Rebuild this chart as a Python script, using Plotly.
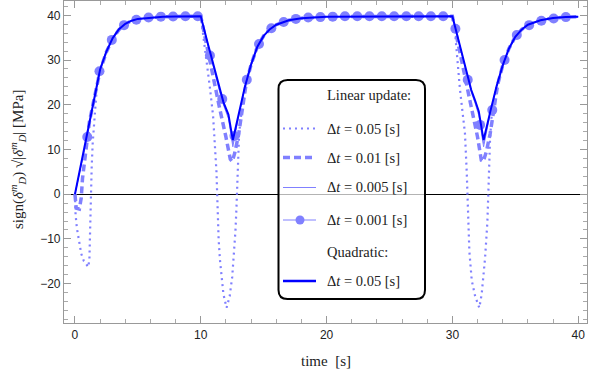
import plotly.graph_objects as go

# ── data ────────────────────────────────────────────────────
# quadratic update, dt = 0.05 s (also time grid for the two fine linear runs)
t_quad = [0, 0.5, 1, 1.5, 2, 2.5, 3, 3.5, 4, 4.5, 5, 6, 7, 8, 10,
          10.5, 11, 11.5, 11.8, 12.2, 12.55, 12.8, 13, 13.5, 14, 14.5, 15, 15.5, 16, 17, 18, 19, 20, 30,
          30.5, 31, 31.5, 31.8, 32.1, 32.48, 32.75, 33, 33.5, 34, 34.5, 35, 35.5, 36, 37, 38, 39, 40]
y_quad = [0, 6.7, 13.4, 20.9, 27.9, 31.9, 34.9, 36.9, 38.1, 38.8, 39.2, 39.5, 39.7, 39.75, 39.8,
          34.3, 28.9, 23.4, 20.6, 17.8, 12.1, 15.2, 17.7, 23.9, 29.0, 33.0, 35.4, 36.9, 37.9, 38.9, 39.35, 39.6, 39.7, 39.8,
          34.3, 28.6, 23.3, 21.0, 18.5, 12.1, 15.5, 18.3, 24.0, 28.8, 32.6, 35.2, 36.8, 37.9, 38.9, 39.4, 39.6, 39.7]

# linear update, dt = 0.005 s
y_005 = [0, 6.5, 13.2, 20.7, 27.8, 31.8, 34.8, 36.9, 38.1, 38.8, 39.2, 39.5, 39.7, 39.75, 39.8,
         34.0, 28.4, 22.9, 20.0, 16.9, 10.6, 14.3, 17.3, 23.8, 29.0, 33.0, 35.4, 36.9, 37.9, 38.9, 39.35, 39.6, 39.7, 39.8,
         34.0, 28.2, 22.8, 20.4, 17.6, 10.6, 14.6, 17.9, 23.9, 28.8, 32.6, 35.2, 36.8, 37.9, 38.9, 39.4, 39.6, 39.7]

# linear update, dt = 0.001 s (line) + its plot markers
y_001 = [0, 6.6, 13.3, 20.8, 27.8, 31.9, 34.8, 36.9, 38.1, 38.8, 39.2, 39.5, 39.7, 39.75, 39.8,
         34.2, 28.7, 23.2, 20.4, 17.4, 11.3, 14.7, 17.5, 23.9, 29.0, 33.0, 35.4, 36.9, 37.9, 38.9, 39.35, 39.6, 39.7, 39.8,
         34.2, 28.4, 23.1, 20.8, 18.1, 11.3, 15.0, 18.1, 24.0, 28.8, 32.6, 35.2, 36.8, 37.9, 38.9, 39.4, 39.6, 39.7]
t_mark = [0.98, 1.95, 2.93, 3.90, 4.88, 5.85, 6.83, 7.80, 8.78, 9.76,
          10.73, 11.71, 12.68, 13.66, 14.63, 15.61, 16.59, 17.56, 18.54, 19.51,
          20.49, 21.46, 22.44, 23.41, 24.39, 25.37, 26.34, 27.32, 28.29, 29.27,
          30.24, 31.22, 32.20, 33.17, 34.15, 35.12, 36.10, 37.07, 38.05, 39.02]
y_mark = [12.8, 27.5, 34.5, 37.8, 39.0, 39.5, 39.7, 39.75, 39.8, 39.8,
          31.0, 21.3, 13.0, 25.6, 33.6, 37.1, 38.5, 39.2, 39.5, 39.6,
          39.7, 39.8, 39.8, 39.8, 39.8, 39.8, 39.8, 39.8, 39.8, 39.8,
          37.0, 25.6, 15.5, 18.8, 30.0, 35.6, 37.8, 38.8, 39.3, 39.6]

# linear update, dt = 0.01 s
t_dash = [0, 0.1, 0.35, 0.5, 0.6, 0.75, 0.9, 1.0, 1.15, 1.5, 2, 2.5, 3, 3.5, 4, 4.5, 5, 6, 7, 8, 10,
          10.5, 11, 11.5, 12, 12.35, 12.5, 12.7, 13, 13.3, 13.6, 14, 14.5, 15, 15.5, 16, 17, 18, 19, 20, 30,
          30.5, 31, 31.5, 32, 32.3, 32.45, 32.7, 33, 33.3, 33.6, 34, 34.5, 35, 35.5, 36, 37, 38, 39, 40]
y_dash = [0, -3.1, -3.3, -0.8, 3.5, 7.0, 10.0, 12.1, 16.2, 21.0, 27.6, 31.8, 34.8, 36.8, 38.0, 38.8, 39.2, 39.5, 39.7, 39.75, 39.8,
          32.6, 25.4, 19.2, 12.8, 7.8, 7.3, 9.2, 13.2, 19.0, 24.6, 29.0, 33.0, 35.4, 36.9, 37.9, 38.9, 39.35, 39.6, 39.7, 39.8,
          32.8, 25.8, 19.5, 12.8, 7.6, 7.3, 9.5, 13.5, 19.3, 24.5, 28.8, 32.6, 35.2, 36.8, 37.9, 38.9, 39.4, 39.6, 39.7]

# linear update, dt = 0.05 s
t_dot = [0, 0.05, 0.15, 0.3, 0.5, 0.7, 0.9, 1.06, 1.15, 1.2, 1.27, 1.33, 1.41, 1.5, 1.6, 1.72, 1.85, 2, 2.5, 3, 3.5, 4, 4.5, 5, 6, 7, 8, 10,
         10.2, 10.45, 10.72, 10.98, 11.15, 11.25, 11.3, 11.35, 11.42, 11.52, 11.65, 11.8, 12.05, 12.3, 12.5, 12.65, 12.76,
         12.84, 12.89, 12.93, 12.98, 13.05, 13.37, 13.7, 14, 14.5, 15, 15.5, 16, 17, 18, 19, 20, 30,
         30.25, 30.6, 31.0, 31.14, 31.22, 31.35, 31.54, 31.8, 32.14, 32.33, 32.6, 32.78, 32.86, 32.91, 32.99,
         33.13, 33.45, 33.8, 34, 34.5, 35, 35.5, 36, 37, 38, 39, 40]
y_dot = [0, -4.5, -7.5, -10.5, -13.3, -14.9, -15.8, -16.3, -14.5, -8.0, 0.0, 6.0, 11.4, 15.5, 19.3, 23.2, 26.5, 27.9, 31.9, 34.9, 36.9, 38.1, 38.8, 39.2, 39.5, 39.7, 39.75, 39.8,
         35.5, 30.5, 24.0, 17.5, 11.0, 5.0, 0.5, -5.0, -10.0, -14.5, -19.0, -22.3, -25.4, -22.8, -18.5, -13.3, -8.1,
         -2.9, 1.6, 6.1, 10.6, 13.6, 21.8, 26.2, 29.0, 33.0, 35.4, 36.9, 37.9, 38.9, 39.35, 39.6, 39.7, 39.8,
         35.0, 23.5, 13.6, 5.0, -4.3, -12.8, -19.3, -22.7, -25.4, -22.3, -14.2, -6.3, 0.4, 6.1, 12.0,
         18.0, 23.0, 26.5, 28.8, 32.6, 35.2, 36.8, 37.9, 38.9, 39.4, 39.6, 39.7]

legend_labels = ["Linear update:", "Δ<i>t</i> = 0.05 [s]", "Δ<i>t</i> = 0.01 [s]",
                 "Δ<i>t</i> = 0.005 [s]", "Δ<i>t</i> = 0.001 [s]", "Quadratic:", "Δ<i>t</i> = 0.05 [s]"]

LIGHT = "rgb(128,128,255)"
DARK = "rgb(0,0,255)"
SERIF = "Liberation Serif, Times New Roman, serif"
W, H = 589, 374
ML, MR, MT, MB = 64, 2, 1, 51

fig = go.Figure()
fig.add_trace(go.Scatter(x=t_dot, y=y_dot, mode="lines",
                         line=dict(color=LIGHT, width=2.2, dash="2px,4px")))
fig.add_trace(go.Scatter(x=t_dash, y=y_dash, mode="lines",
                         line=dict(color=LIGHT, width=3.5, dash="7px,4px")))
fig.add_trace(go.Scatter(x=t_quad, y=y_005, mode="lines",
                         line=dict(color=LIGHT, width=1)))
fig.add_trace(go.Scatter(x=t_quad, y=y_001, mode="lines",
                         line=dict(color=LIGHT, width=1)))
fig.add_trace(go.Scatter(x=t_mark, y=y_mark, mode="markers",
                         marker=dict(color=LIGHT, size=10)))
fig.add_trace(go.Scatter(x=t_quad, y=y_quad, mode="lines",
                         line=dict(color=DARK, width=2)))

axis_style = dict(showline=True, linecolor="#999", linewidth=1.2, mirror="ticks",
                  ticks="inside", ticklen=7, tickcolor="#999", tickwidth=1,
                  showgrid=False, tickfont=dict(family="Liberation Sans, Arial", size=12, color="#222"),
                  minor=dict(ticks="inside", ticklen=4, tickcolor="#aaa", dtick=2, showgrid=False))

fig.update_xaxes(range=[-0.87, 40.7], dtick=10, zeroline=False, **axis_style)
fig.update_yaxes(range=[-28.8, 43.2], dtick=10, zeroline=True, zerolinecolor="black",
                 zerolinewidth=1, **axis_style)


# ── hand-made legend (rounded box) ───────────────────────────
def px_x(p):
    return (p - ML) / (W - ML - MR)


def px_y(p):
    return 1 - (p - MT) / (H - MT - MB)


x0, x1, yt, yb = px_x(278.5), px_x(425), px_y(80), px_y(299)
rx, ry = 9 / (W - ML - MR), 9 / (H - MT - MB)
box = (f"M {x0+rx},{yt} L {x1-rx},{yt} Q {x1},{yt} {x1},{yt-ry} L {x1},{yb+ry} "
       f"Q {x1},{yb} {x1-rx},{yb} L {x0+rx},{yb} Q {x0},{yb} {x0},{yb+ry} "
       f"L {x0},{yt-ry} Q {x0},{yt} {x0+rx},{yt} Z")
fig.add_shape(type="path", path=box, xref="paper", yref="paper",
              line=dict(color="black", width=2), fillcolor="rgba(255,255,255,0.7)")

rows = [95, 128.5, 157.5, 187.5, 220, 251.5, 281]
samples = {1: dict(color=LIGHT, width=2.2, dash="2px,4px"),
           2: dict(color=LIGHT, width=3.5, dash="7px,4px"),
           3: dict(color=LIGHT, width=1),
           4: dict(color=LIGHT, width=1),
           6: dict(color=DARK, width=2.5)}
for i, st in samples.items():
    fig.add_shape(type="line", xref="paper", yref="paper",
                  x0=px_x(283), x1=px_x(316), y0=px_y(rows[i]), y1=px_y(rows[i]), line=st)
fig.add_shape(type="circle", xref="paper", yref="paper",
              x0=px_x(295.5), x1=px_x(304.5), y0=px_y(rows[4] - 4.5), y1=px_y(rows[4] + 4.5),
              fillcolor=LIGHT, line=dict(width=0))

for lab, r in zip(legend_labels, rows):
    fig.add_annotation(text=lab, xref="paper", yref="paper", x=px_x(325), y=px_y(r),
                       xanchor="left", yanchor="middle", showarrow=False,
                       font=dict(family=SERIF, size=14.5, color="#222"))

# axis titles
fig.add_annotation(text="time  [s]", xref="paper", yref="paper", x=px_x(326), y=px_y(361),
                   xanchor="center", yanchor="middle", showarrow=False,
                   font=dict(family=SERIF, size=15, color="#222"))
fig.add_annotation(text="sign(<i>δ</i><sup><i>m</i></sup><sub><i>D</i></sub>) √|<i>δ</i><sup><i>m</i></sup><sub><i>D</i></sub>| [MPa]",
                   xref="paper", yref="paper", x=px_x(18), y=px_y(160), textangle=-90,
                   xanchor="center", yanchor="middle", showarrow=False,
                   font=dict(family=SERIF, size=15, color="#222"))

fig.update_layout(width=W, height=H, showlegend=False,
                  margin=dict(l=ML, r=MR, t=MT, b=MB),
                  plot_bgcolor="white", paper_bgcolor="white")

# browser default body margin would shift the figure by 8 px
fig.write_html("out.html", config={"displayModeBar": False},
               post_script="document.body.style.margin='0';")
